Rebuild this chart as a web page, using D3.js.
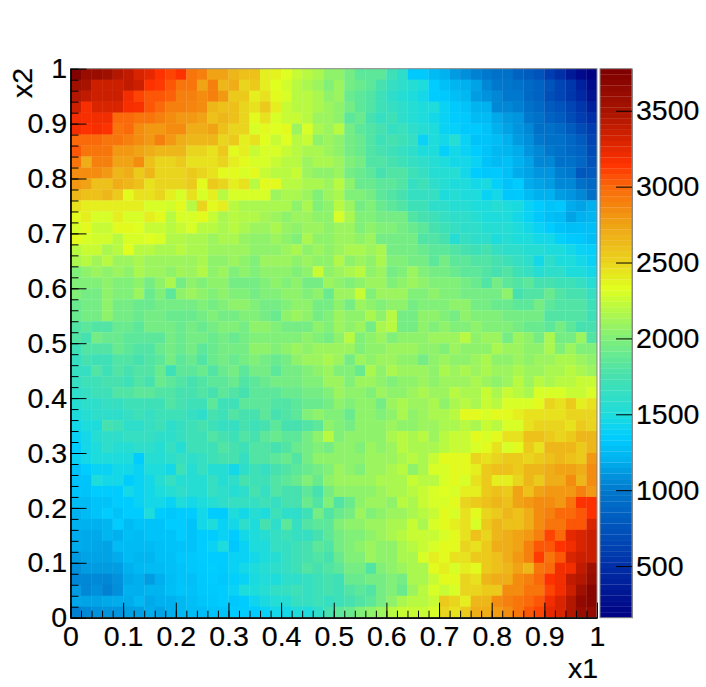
<!DOCTYPE html>
<html>
<head>
<meta charset="utf-8">
<script src="https://cdn.jsdelivr.net/npm/d3@7"></script>
<style>
    html, body { margin: 0; padding: 0; background: #fff; }
    text { font-family: "Liberation Sans", sans-serif; font-size: 28.5px; fill: #000; stroke: #000; stroke-width: 0.2px; }
    .tick text { font-family: "Liberation Sans", sans-serif; font-size: 28.5px; }
</style>
</head>
<body>
<div id="chart"></div>
<script>
// bin contents, top row (x2 close to 1) first, x1 left to right
var counts = [
[3750,3600,3600,3550,3450,3400,3300,3250,3150,3100,3150,2950,2900,2750,2750,2650,2600,2600,2400,2380,2320,2250,2200,2150,2050,2050,1950,1850,1850,1850,1700,1600,1330,1330,1250,1200,1120,1080,1030,1000,950,950,850,800,750,600,500,350,230,170],
[3550,3500,3350,3350,3350,3400,3350,3150,3130,3050,2950,2950,2750,2900,2650,2700,2500,2550,2400,2330,2280,2200,2150,2100,2000,2100,1950,1900,1850,1750,1650,1600,1550,1500,1350,1280,1220,1200,1150,1050,1000,980,950,900,850,750,650,550,400,250],
[3450,3400,3350,3350,3350,3200,3100,3050,3050,3020,2900,2900,2850,2900,2800,2550,2550,2400,2450,2350,2300,2200,2200,2150,2050,2100,1900,1850,1800,1700,1600,1550,1500,1450,1350,1330,1270,1230,1130,1090,1050,1000,1000,900,850,720,650,550,450,300],
[3350,3180,3300,3300,3300,3180,3170,3050,3000,2900,2900,2880,2850,2650,2600,2600,2500,2450,2550,2400,2250,2200,2200,2150,2100,2050,1950,1850,1800,1700,1650,1600,1550,1500,1500,1400,1330,1300,1210,1200,1050,1050,1020,950,900,800,750,650,550,400],
[3200,3180,3200,3200,3000,3000,2950,2950,2900,2850,2800,2800,2750,2600,2650,2600,2500,2350,2450,2300,2250,2250,2200,2100,2100,2050,1850,1900,1750,1650,1700,1600,1550,1500,1450,1400,1350,1330,1250,1250,1170,1120,1100,1000,950,850,800,700,600,500],
[3200,3150,3180,3150,2950,3000,2850,2800,2800,2850,2850,2700,2700,2750,2600,2500,2500,2300,2350,2320,2350,2100,2300,2150,2100,2200,1950,1850,1800,1750,1650,1680,1600,1550,1500,1400,1380,1330,1330,1300,1200,1150,1100,1050,950,950,900,800,700,600],
[3000,3000,3000,2950,2950,2900,2850,2800,2900,2800,2700,2650,2650,2650,2500,2550,2400,2450,2330,2250,2320,2200,2250,2050,2100,2050,1950,1900,1800,1700,1750,1700,1650,1400,1500,1450,1550,1400,1300,1300,1260,1200,1120,1080,1000,950,950,880,800,650],
[3050,2950,2950,2950,2800,2800,2750,2700,2650,2650,2650,2500,2500,2450,2550,2350,2400,2250,2300,2300,2250,2200,2150,2150,2100,2050,1950,1900,1800,1750,1700,1650,1600,1500,1500,1380,1450,1400,1350,1300,1230,1220,1180,1100,1050,1000,950,900,850,700],
[2950,2700,2900,2900,2750,2750,2850,2600,2500,2500,2550,2450,2450,2450,2500,2400,2350,2300,2300,2250,2200,2200,2100,2150,2150,2100,2000,1950,1800,1800,1750,1700,1650,1600,1550,1500,1450,1450,1400,1300,1250,1280,1200,1150,1050,1050,950,950,880,750],
[2850,2850,2850,2800,2650,2700,2550,2650,2500,2500,2500,2550,2500,2450,2350,2350,2300,2350,2250,2200,2200,2250,2100,2050,2050,2100,1950,1900,1850,1750,1800,1800,1700,1650,1550,1550,1550,1450,1350,1320,1330,1280,1180,1150,1100,1100,1020,1000,780,800],
[2800,2750,2600,2600,2700,2650,2600,2450,2500,2500,2500,2550,2350,2550,2500,2400,2450,2200,2350,2350,2200,2200,2150,2150,2100,2200,2050,1900,1900,1850,1850,1800,1650,1700,1600,1550,1500,1500,1450,1480,1380,1300,1340,1180,1150,1130,1050,1050,950,900],
[2650,2600,2600,2650,2550,2350,2450,2450,2500,2400,2300,2450,2300,2400,2200,2300,2300,2300,2300,2100,2150,2150,2100,2000,2100,2150,2000,2000,1950,1850,1800,1750,1650,1650,1650,1500,1550,1500,1500,1400,1450,1320,1330,1250,1200,1200,1130,1100,1050,950],
[2450,2400,2400,2400,2400,2400,2400,2300,2300,2280,2350,2200,2500,2350,2400,2200,2150,2150,2150,2150,2150,2050,2150,2000,2050,2200,2100,1950,2000,1900,1850,1800,1700,1700,1600,1600,1550,1550,1500,1500,1550,1500,1480,1400,1350,1300,1320,1180,1150,1200],
[2350,2400,2300,2300,2400,2300,2300,2400,2350,2200,2300,2300,2350,2250,2150,2200,2180,2180,2130,2100,2050,2100,2100,2050,2050,2300,2150,2000,2000,1950,1950,1950,1800,1750,1700,1650,1600,1600,1550,1500,1500,1500,1450,1400,1320,1280,1250,1150,1200,1220],
[2300,2350,2250,2250,2350,2350,2320,2250,2250,2200,2250,2300,2200,2200,2150,2200,2150,2100,2100,2150,2080,2050,2100,2100,2050,2100,2100,2000,2050,2000,2000,1950,1900,1850,1750,1700,1650,1600,1600,1550,1550,1550,1500,1450,1400,1350,1300,1270,1280,1280],
[2350,2300,2280,2280,2200,2300,2300,2320,2300,2180,2180,2150,2150,2100,2150,2150,2080,2050,2050,2100,2050,2000,2150,2050,2050,2100,2100,2050,2100,1950,1950,1950,1950,1800,1800,1750,1550,1650,1600,1600,1500,1550,1500,1500,1450,1450,1380,1330,1320,1280],
[2200,2250,2250,2150,2200,2330,2200,2200,2150,2150,2200,2150,2150,2100,2100,2100,2100,2050,2050,2050,2100,2150,2050,2100,2050,2100,2150,2150,2100,2150,1950,1950,1950,1900,1850,1850,1800,1750,1700,1750,1650,1600,1600,1550,1550,1500,1500,1450,1400,1380],
[2150,2200,2120,2200,2100,2100,2150,2100,2100,2100,2100,2100,2150,2050,2050,2100,2050,2000,2100,2100,2100,2050,2100,2050,2050,2180,2050,2100,2050,2150,2000,2000,1950,1950,1850,1950,1850,1850,1800,1800,1750,1700,1650,1600,1450,1600,1500,1500,1450,1400],
[2000,2050,2100,2050,2100,2050,2150,2100,2100,2050,2120,2100,2180,2050,2100,2000,2050,2000,2050,2050,2050,2000,2050,2250,2050,2100,2150,2200,2050,2100,1950,2000,2100,2000,1950,1950,1900,1850,1850,1800,1750,1800,1700,1650,1550,1600,1600,1500,1500,1450],
[2000,2000,2000,2050,2000,2000,2050,1950,2050,2150,1950,2050,2000,2050,2050,1950,1950,1950,2000,2050,2000,2050,1950,1950,2100,2050,2000,2050,2100,2100,2000,2050,2100,2050,2000,2000,2000,1950,1900,1800,1950,1850,1800,1850,1750,1750,1700,1700,1650,1550],
[2000,1950,1950,2050,2000,2000,2100,1900,2000,1850,2050,2100,2050,2000,2050,2000,2000,1950,2000,2000,2050,2050,2000,2050,1900,2100,2100,2250,2000,2100,2100,2100,2000,2000,2050,2000,2000,1950,1950,1950,1950,2050,1750,1800,1800,1900,1800,1750,1750,1650],
[1900,1950,1950,2050,1950,1950,1900,1900,1950,1950,1950,1950,2000,1950,2000,2050,2050,2000,1950,1950,2000,2050,2050,1950,1950,2050,1950,2100,2050,2000,2050,2050,1950,2000,2000,2000,2050,2050,1950,1950,1900,1900,1850,1850,1950,1850,1800,1800,1800,1700],
[1900,1950,1950,2050,1950,1950,1900,1950,1950,1900,1900,1900,1950,2000,1950,1950,2000,2000,1950,1900,2050,2100,2050,1950,2000,2100,2050,2050,2150,2050,2200,1950,1950,2050,2050,2000,1950,2050,2000,2000,2000,1950,1950,1950,1950,1800,1800,1800,1800,1700],
[1800,1850,1800,1800,1900,1900,1850,1950,1950,1950,1900,1950,1900,1950,2000,2000,1950,2050,2050,2000,1950,1950,1950,2050,2000,2100,2050,2100,1950,2150,2200,1950,1950,2050,2000,2050,2000,2000,2050,2000,2000,2000,1950,1900,1900,1850,1950,1850,1750,1750],
[1800,1750,1950,1900,1900,1850,1850,1850,1850,1950,1900,1950,1950,1900,1950,1900,1950,2000,2000,2000,2000,2000,2050,2000,1950,2050,2200,2000,2050,2100,2000,2050,2050,2050,2100,2100,2100,2200,2050,2100,2100,1950,2100,2050,1950,2150,1950,1950,2100,1800],
[1700,1800,1800,1800,1900,1850,1800,1800,1900,1950,1900,1950,1850,1900,1950,1950,1950,2050,2050,2000,2050,2100,2050,2100,2100,2100,2100,2000,2050,2050,2100,2100,2100,2050,2050,2000,2100,2050,2050,2050,2150,2100,2100,2050,2050,2150,2000,2100,2000,2000],
[1650,1750,1700,1700,1800,1800,1750,1800,1850,1950,1850,1900,1800,1900,1950,1900,1950,2000,1950,1900,1950,2050,2100,2100,2150,2100,1950,2100,2050,2100,2100,2050,2050,1950,2050,2100,2050,2050,2100,2150,2050,2050,2100,2050,2100,2100,2150,2150,2100,2050],
[1650,1650,1800,1700,1800,1750,1800,1800,1900,1700,1850,1850,1900,1800,1900,1950,1850,1950,1950,1850,1950,1950,2000,2050,2100,2000,2000,1900,2150,2050,2150,2100,2100,2100,2050,2150,2100,2150,2100,2150,2100,2100,2150,2100,2100,2150,2150,2200,2150,2100],
[1650,1700,1700,1750,1750,1700,1800,1750,1900,1850,1800,1750,1800,1850,1850,1900,1800,1850,1900,1950,1950,1950,2000,2000,2100,2100,2000,2100,2100,2050,2000,2050,2050,2100,2050,2100,2100,2100,2150,2100,2050,2100,2200,2100,2200,2150,2200,2200,2250,2250],
[1600,1650,1700,1700,1800,1800,1850,1850,1800,1800,1750,1750,1800,1750,1850,1800,1750,1850,1850,1850,1900,1900,1950,1950,2000,2100,2050,2050,2000,2100,2050,2050,2100,2150,2100,2100,2200,2150,2150,2250,2150,2250,2200,2150,2300,2300,2300,2250,2250,2300],
[1550,1600,1600,1650,1650,1700,1700,1700,1700,1800,1750,1700,1700,1850,1700,1700,1850,1850,1850,1800,1800,1850,1900,1900,1950,2050,2000,2050,2050,1950,2100,2150,2100,2100,2150,2050,2150,2200,2150,2250,2200,2300,2300,2300,2350,2500,2450,2550,2400,2450],
[1500,1550,1600,1600,1600,1650,1700,1650,1700,1700,1700,1650,1600,1750,1700,1800,1750,1750,1850,1750,1800,1850,2000,2050,2000,2000,1900,2050,2050,2000,2050,2150,2050,2100,2150,2150,2200,2350,2350,2300,2350,2350,2400,2450,2450,2450,2450,2500,2500,2500],
[1450,1500,1500,1750,1700,1600,1600,1650,1700,1600,1650,1700,1750,1700,1650,1650,1750,1700,1750,1850,1750,1750,1800,1850,2050,2000,1950,2050,2050,2050,2100,2050,2050,2100,2100,2150,2150,2200,2150,2250,2200,2300,2300,2450,2500,2500,2500,2450,2550,2500],
[1400,1450,1550,1600,1600,1650,1650,1650,1600,1600,1650,1700,1700,1800,1750,1700,1800,1750,1850,1900,1850,1850,1950,2050,2200,2000,2050,2050,2050,2050,2150,2200,2150,2200,2100,2200,2250,2250,2350,2300,2350,2450,2450,2600,2600,2550,2500,2550,2650,2650],
[1350,1450,1500,1600,1550,1550,1600,1600,1550,1650,1550,1700,1700,1700,1800,1750,1700,1800,1800,1750,1800,1900,1950,2000,1950,2050,2050,2000,2100,2050,2100,2200,2150,2150,2150,2200,2250,2250,2300,2350,2450,2300,2350,2550,2450,2650,2650,2650,2550,2650],
[1400,1450,1500,1500,1500,1500,1350,1550,1550,1600,1650,1600,1650,1700,1750,1750,1650,1800,1800,1850,1900,1800,1950,2050,2050,2050,2050,2050,2100,2100,2100,2150,2200,2150,2250,2350,2350,2350,2500,2450,2500,2550,2550,2500,2550,2600,2650,2600,2550,2800],
[1300,1350,1400,1400,1450,1450,1400,1500,1500,1450,1700,1550,1650,1550,1550,1450,1600,1700,1650,1750,1800,1850,1900,1950,2000,2100,2050,2000,2100,2100,2150,2200,2050,2150,2300,2300,2350,2350,2400,2550,2600,2600,2550,2650,2650,2700,2750,2750,2700,2850],
[1300,1300,1500,1450,1450,1350,1400,1450,1550,1650,1550,1550,1550,1650,1550,1600,1750,1700,1700,1800,1850,1900,2000,1900,2050,2100,2100,2100,2100,2150,2150,2150,2250,2200,2200,2300,2350,2300,2450,2550,2400,2400,2500,2650,2550,2700,2700,2850,2650,2850],
[1300,1300,1350,1350,1350,1450,1400,1450,1500,1550,1600,1550,1550,1650,1600,1550,1600,1750,1650,1800,1750,1750,1850,1750,1950,2050,2050,2050,2050,2100,2150,2150,2200,2250,2300,2320,2300,2400,2400,2550,2600,2550,2750,2600,2750,2800,2800,2800,2900,2800],
[1250,1250,1300,1300,1350,1350,1400,1450,1450,1400,1500,1450,1500,1550,1600,1650,1650,1650,1700,1650,1750,1750,1900,1800,2000,1800,1900,2050,2100,2100,2050,2200,2150,2250,2300,2300,2350,2500,2550,2600,2650,2600,2750,2800,2850,2850,2800,2950,3150,3150],
[1200,1250,1300,1350,1300,1350,1350,1500,1350,1320,1350,1350,1450,1350,1350,1500,1450,1550,1500,1700,1600,1600,1700,1950,1800,1900,1950,2100,2000,2050,2100,2100,2150,2200,2250,2350,2300,2450,2350,2500,2550,2650,2600,2700,2850,2900,3000,3000,3050,3150],
[1200,1200,1200,1220,1350,1250,1300,1300,1300,1350,1350,1300,1450,1500,1400,1450,1600,1500,1750,1600,1850,1650,1800,1850,1850,2000,2050,2050,2100,2100,2150,2150,2250,2150,2300,2350,2400,2450,2300,2550,2650,2600,2600,2700,2850,2950,2950,3050,3050,3300],
[1180,1170,1170,1220,1200,1270,1250,1300,1300,1300,1350,1300,1350,1350,1400,1350,1450,1500,1550,1650,1700,1650,1650,1750,1850,1950,2000,2000,2050,2100,2150,2200,2250,2250,2250,2300,2350,2450,2600,2500,2650,2700,2750,2800,2900,3100,3000,3250,3300,3350],
[1180,1170,1160,1150,1250,1250,1250,1250,1280,1300,1300,1300,1350,1400,1500,1320,1400,1500,1500,1650,1650,1700,1750,1850,1800,1950,2000,2050,2100,2050,2050,2150,2200,2250,2300,2350,2350,2500,2450,2550,2700,2700,2750,2900,3050,3050,3150,3200,3300,3350],
[1120,1150,1150,1150,1180,1250,1220,1220,1280,1280,1320,1320,1350,1350,1350,1400,1400,1450,1500,1550,1650,1700,1750,1800,1750,1900,2000,2000,2100,2050,2050,2150,2150,2300,2400,2350,2450,2450,2550,2550,2600,2700,2800,2900,3120,2950,3050,3300,3350,3350],
[1080,1120,1120,1120,1130,1200,1230,1250,1250,1280,1300,1320,1340,1360,1340,1400,1450,1500,1550,1600,1650,1700,1800,1750,1800,1850,1950,1950,1800,2000,2050,2100,2150,2150,2350,2400,2300,2400,2350,2550,2600,2650,2750,2650,2950,3000,3200,3200,3400,3550],
[1050,1050,1060,1050,1090,1170,1190,1130,1190,1260,1300,1280,1330,1350,1320,1370,1400,1480,1520,1500,1600,1600,1650,1700,1750,1700,1900,1900,1950,1950,2000,1950,2150,2150,2250,2350,2350,2500,2450,2650,2700,2700,2850,2900,3000,3150,3200,3400,3450,3600],
[1120,1050,1080,1030,1080,1200,1190,1210,1210,1270,1310,1290,1320,1330,1350,1400,1500,1500,1550,1620,1650,1700,1650,1700,1750,1700,1800,1850,1800,1950,2000,1900,2100,2200,2300,2250,2300,2500,2500,2550,2550,2850,2850,2950,2950,3100,3200,3350,3550,3700],
[1160,1150,1150,1170,1180,1180,1230,1170,1200,1200,1240,1270,1310,1320,1350,1320,1350,1420,1480,1530,1550,1650,1650,1700,1650,1700,1750,1800,1850,1950,2050,2150,2200,2200,2250,2550,2500,2400,2650,2650,2850,2900,2950,3000,3050,3200,3300,3450,3650,3700],
[1020,1060,1090,1100,1100,1140,1140,1180,1150,1190,1230,1260,1260,1300,1300,1340,1350,1350,1400,1450,1450,1500,1500,1600,1750,1850,1900,2000,2050,2100,2200,2250,2250,2250,2300,2500,2450,2550,2700,2700,2780,2850,2950,3050,3100,3250,3300,3450,3600,3620]
];

var axisTicks = [0, 0.1, 0.2, 0.3, 0.4, 0.5, 0.6, 0.7, 0.8, 0.9, 1];
var colorTicks = [500, 1000, 1500, 2000, 2500, 3000, 3500];
var colorMin = 160;
var colorMax = 3777;
var paletteStops = [0, 0.1, 0.232, 0.29, 0.33, 0.37, 0.44, 0.51, 0.57, 0.6, 0.65, 0.72, 0.785, 0.826, 0.87, 0.92, 1];
var paletteColors = ["#000082", "#0032aa", "#0078cd", "#00b4f0", "#00cdff", "#1edcdc", "#46e1af", "#82f078", "#befa3c", "#e1ff1e", "#ebd21e", "#f0a014", "#fa690a", "#ff3200", "#d72300", "#aa1400", "#7d0000"];

var width = 706, height = 687;
var plotLeft = 70.5, plotRight = 597, plotTop = 68.7, plotBottom = 617.7;
var barLeft = 600, barRight = 632;

var svg = d3.select("#chart").append("svg")
    .attr("width", width)
    .attr("height", height)
    .style("display", "block");

var x = d3.scaleLinear().domain([0, 1]).range([plotLeft, plotRight]);
var y = d3.scaleLinear().domain([0, 1]).range([plotBottom, plotTop]);
var z = d3.scaleLinear().domain([colorMin, colorMax]).range([plotBottom, plotTop]);
var palette = d3.scaleLinear().domain(paletteStops).range(paletteColors);

function colorOf(value) {
    return palette((value - colorMin) / (colorMax - colorMin));
}

var nBins = counts.length;

// cells overlap a little so the seams stay faint
svg.append("g").selectAll("g")
    .data(counts)
    .join("g")
    .each(function (row, r) {
        d3.select(this).selectAll("rect")
            .data(row)
            .join("rect")
            .attr("x", function (d, c) { return x(c / nBins); })
            .attr("y", y(1 - r / nBins))
            .attr("width", function (d, c) { return x(1 / nBins) - x(0) + (c < nBins - 1 ? 0.3 : 0); })
            .attr("height", y(0) - y(1 / nBins) + (r < nBins - 1 ? 0.3 : 0))
            .attr("fill", colorOf);
    });

// colour bar
var bandValues = d3.range(99).map(function (i) { return colorMin + (colorMax - colorMin) * i / 99; });
var bandStep = (colorMax - colorMin) / 99;
svg.append("g").selectAll("rect")
    .data(bandValues)
    .join("rect")
    .attr("x", barLeft)
    .attr("width", barRight - barLeft)
    .attr("y", function (d) { return z(d + bandStep); })
    .attr("height", function (d) { return z(d) - z(d + bandStep) + 0.2; })
    .attr("fill", function (d) { return colorOf(d + bandStep / 2); });

function frame(x0, x1, y0, y1) {
    svg.append("rect")
        .attr("x", x0).attr("y", y0)
        .attr("width", x1 - x0).attr("height", y1 - y0)
        .attr("fill", "none")
        .attr("stroke", "#888")
        .attr("stroke-width", 1);
}
frame(plotLeft, plotRight, plotTop, plotBottom);
frame(barLeft, barRight, plotTop, plotBottom);

var minorTicks = d3.range(51).map(function (i) { return i / 50; });

function styleAxis(g) {
    g.selectAll("line").attr("stroke", "#000").attr("stroke-width", 1);
    g.selectAll(".domain").attr("stroke", "#000").attr("stroke-width", 1.2);
}

svg.append("g")
    .attr("transform", "translate(0," + plotBottom + ")")
    .call(d3.axisBottom(x).tickValues(minorTicks).tickSizeInner(-7).tickSizeOuter(0).tickFormat(""))
    .call(styleAxis);
svg.append("g")
    .attr("transform", "translate(0," + plotBottom + ")")
    .call(d3.axisBottom(x).tickValues(axisTicks).tickSizeInner(-15).tickSizeOuter(0).tickPadding(8.5).tickFormat(String))
    .call(styleAxis);

svg.append("g")
    .attr("transform", "translate(" + plotLeft + ",0)")
    .call(d3.axisLeft(y).tickValues(minorTicks).tickSizeInner(-8).tickSizeOuter(0).tickFormat(""))
    .call(styleAxis);
svg.append("g")
    .attr("transform", "translate(" + plotLeft + ",0)")
    .call(d3.axisLeft(y).tickValues(axisTicks).tickSizeInner(-16).tickSizeOuter(0).tickPadding(3.5).tickFormat(String))
    .call(styleAxis);

var barAxis = svg.append("g")
    .attr("transform", "translate(" + barRight + ",0)")
    .call(d3.axisRight(z).tickValues(colorTicks).tickSizeInner(-16).tickSizeOuter(0).tickPadding(4).tickFormat(String))
    .call(styleAxis);
barAxis.select(".domain").attr("stroke", "#888").attr("stroke-width", 1);

svg.selectAll(".tick text").attr("fill", "#000").style("font-size", "28.5px");

svg.append("text")
    .attr("x", 598)
    .attr("y", 678)
    .attr("text-anchor", "end")
    .text("x1");

svg.append("text")
    .attr("transform", "translate(32," + 68 + ") rotate(-90)")
    .attr("text-anchor", "end")
    .text("x2");
</script>
</body>
</html>
